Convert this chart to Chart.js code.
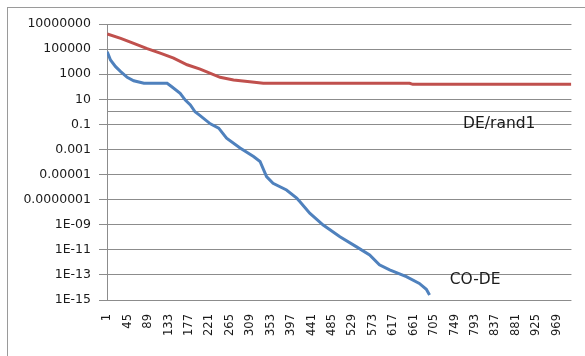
<!DOCTYPE html>
<html>
<head>
<meta charset="utf-8">
<script src="https://cdn.jsdelivr.net/npm/chart.js@4"></script>
<style>
  body { margin: 0; background: #fff; }
  #wrap { position: relative; width: 585px; height: 356px; overflow: hidden; background: #fff; }
  #frame { position: absolute; left: 7px; top: 7px; width: 700px; height: 500px;
           border-left: 1px solid #9a9a9a; border-top: 1px solid #9a9a9a; pointer-events: none; }
  canvas { position: absolute; left: 0; top: 0; }
</style>
</head>
<body>
<div id="wrap">
  <canvas id="chart" width="585" height="356"></canvas>
  <div id="frame"></div>
</div>
<script>
// generation number vs. best error
const redX = [1, 30, 58, 87, 115, 144, 173, 201, 244, 273, 308, 337, 652, 659, 1000]
const redY = [1.6e6, 7.2e5, 2.9e5, 1.1e5, 4.7e4, 1.9e4, 5.6e3, 2.5e3, 560, 350, 250, 190, 190, 155, 155]

const blueX = [1, 8, 19, 30, 44, 58, 80, 130, 140, 158, 169, 180, 190, 201, 223, 241, 258, 287,
    316, 330, 344, 358, 387, 409, 416, 437, 466, 502, 537, 566, 587, 609, 645, 673, 688, 695]
const blueY = [6.2e4, 1.35e4, 4.0e3, 1.6e3, 560, 300, 190, 190, 100, 30, 8.7, 3.5, 1.0, 0.5, 0.11, 0.05,
    0.008, 1.3e-3, 2.7e-4, 1.1e-4, 6.8e-6, 2.0e-6, 5.9e-7, 1.3e-7, 6.9e-8, 8.3e-9, 9.5e-10, 1.1e-10,
    1.8e-11, 3.9e-12, 6.3e-13, 2.5e-13, 7.2e-14, 2.1e-14, 7.2e-15, 2.5e-15]

const xTicks = [1, 45, 89, 133, 177, 221, 265, 309, 353, 397, 441, 485, 529, 573, 617, 661, 705,
    749, 793, 837, 881, 925, 969]
// the unlabelled 1 is where the category axis crosses
const yTicks = [1e-15, 1e-13, 1e-11, 1e-9, 1e-7, 1e-5, 1e-3, 0.1, 1, 10, 1000, 1e5, 1e7]
const yTickLabels = ['1E-15', '1E-13', '1E-11', '1E-09', '0.0000001', '0.00001', '0.001', '0.1', '',
    '10', '1000', '100000', '10000000']

const seriesNames = ['DE/rand1', 'CO-DE']

const gridColor = '#8c8c8c'

const toPoints = (xs, ys) => xs.map((x, i) => ({x: x, y: ys[i]}))

// text labels next to the curves, placed in data coordinates
const curveLabels = {
    id: 'curveLabels',
    afterDatasetsDraw(chart) {
        const {ctx, scales} = chart
        const spots = [{x: 845, y: 0.1}, {x: 793, y: 4e-14}]
        ctx.save()
        ctx.font = '15.5px "DejaVu Sans"'
        ctx.fillStyle = '#1a1a1a'
        ctx.textAlign = 'center'
        ctx.textBaseline = 'middle'
        seriesNames.forEach((name, i) => {
            ctx.fillText(name, scales.x.getPixelForValue(spots[i].x), scales.y.getPixelForValue(spots[i].y))
        })
        ctx.restore()
    }
}

new Chart(document.getElementById('chart'), {
    type: 'line',
    data: {
        datasets: [{
            label: seriesNames[0],
            data: toPoints(redX, redY),
            borderColor: '#c0504d',
            borderWidth: 3,
            pointRadius: 0,
            tension: 0
        }, {
            label: seriesNames[1],
            data: toPoints(blueX, blueY),
            borderColor: '#4f81bd',
            borderWidth: 3,
            pointRadius: 0,
            tension: 0
        }]
    },
    options: {
        responsive: false,
        animation: false,
        layout: {padding: {left: 0, top: 24, right: 12, bottom: 0}},
        plugins: {legend: {display: false}, tooltip: {enabled: false}},
        scales: {
            x: {
                type: 'linear',
                min: 0.5,
                max: 1000.5,
                afterBuildTicks: scale => { scale.ticks = xTicks.map(v => ({value: v})) },
                afterFit: scale => { scale.height = 56 },
                grid: {display: false, drawTicks: false},
                border: {display: false},
                ticks: {
                    autoSkip: false,
                    minRotation: 90,
                    maxRotation: 90,
                    padding: 14,
                    color: '#1a1a1a',
                    font: {family: 'DejaVu Sans', size: 11.5},
                    callback: v => String(v)
                }
            },
            y: {
                type: 'logarithmic',
                min: 1e-15,
                max: 1e7,
                afterBuildTicks: scale => { scale.ticks = yTicks.map(v => ({value: v})) },
                afterFit: scale => { scale.width = 107 },
                grid: {
                    color: gridColor,
                    lineWidth: 1,
                    tickLength: 8,
                    tickColor: c => (c.tick && c.tick.value === 1) ? 'rgba(0,0,0,0)' : gridColor
                },
                border: {display: true, color: gridColor, width: 1},
                ticks: {
                    padding: 8,
                    color: '#1a1a1a',
                    font: {family: 'DejaVu Sans', size: 12.5},
                    callback: (v, i) => yTickLabels[i]
                }
            }
        }
    },
    plugins: [curveLabels]
})
</script>
</body>
</html>
